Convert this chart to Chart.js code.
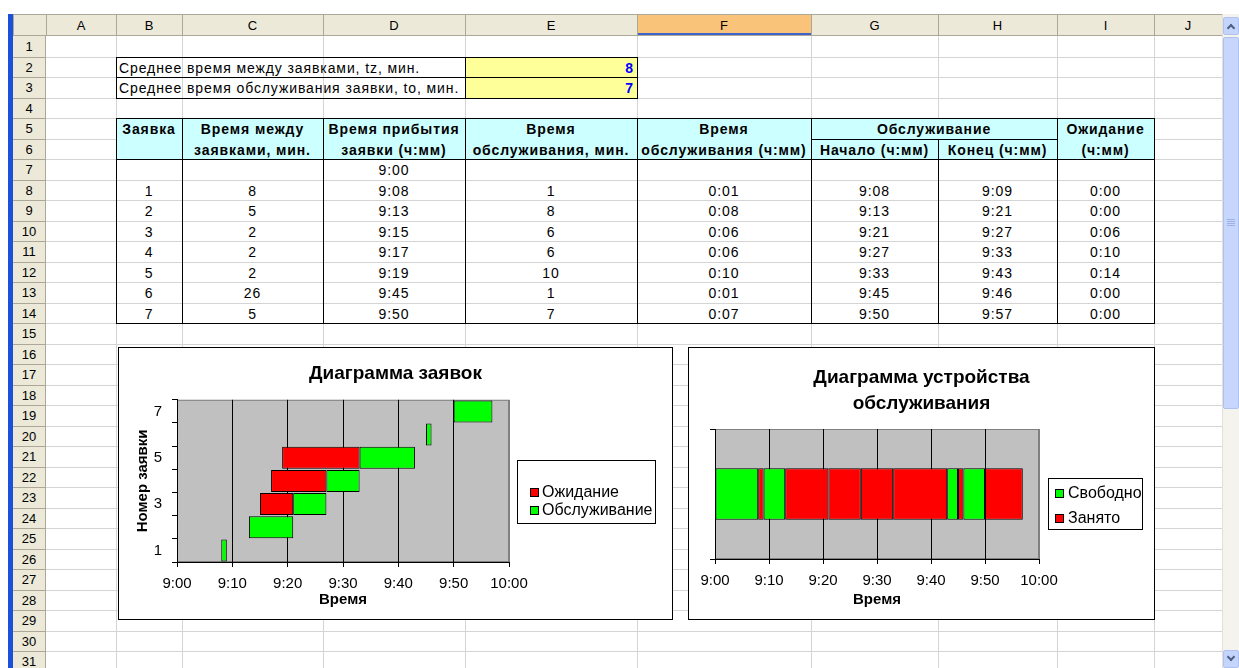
<!DOCTYPE html>
<html lang="ru">
<head>
<meta charset="utf-8">
<title>Диаграмма заявок</title>
<script src="https://cdn.jsdelivr.net/npm/chart.js@4.4.1/dist/chart.umd.min.js"></script>
<style>
html, body { margin: 0; padding: 0; background: #fff; }
body { width: 1239px; height: 668px; overflow: hidden; position: relative; font-family: 'Liberation Sans', Arial, sans-serif; }
#sheet { position: absolute; left: 0; top: 0; width: 1239px; height: 668px; }
.ln { position: absolute; box-sizing: border-box; }
.cell { position: absolute; box-sizing: border-box; font-size: 14px; letter-spacing: 0.9px; white-space: nowrap;
        display: flex; align-items: center; padding: 1px 3px 0 3px; color: #000; }
.hdr { position: absolute; box-sizing: border-box; font-size: 13px; display: flex; align-items: center; justify-content: center; color: #000; }
.chartbox { position: absolute; background: #fff; border: 1px solid #000; box-sizing: border-box; }
.chartbox canvas { position: absolute; left: 0; top: 0; }
</style>
</head>
<body>
<div id="sheet"></div>
<div class="chartbox" style="left:118px; top:347px; width:555px; height:273px;">
  <canvas id="requestsChart" width="553" height="271"></canvas>
</div>
<div class="chartbox" style="left:688px; top:347px; width:467px; height:273px;">
  <canvas id="deviceChart" width="465" height="271"></canvas>
</div>
<script>
// исходные параметры
const tzMean = 8;
const toMean = 7;

// таблица заявок
const requests = ['1', '2', '3', '4', '5', '6', '7'];
const interArrival = [8, 5, 2, 2, 2, 26, 5];
const arrivalTime = ['9:08', '9:13', '9:15', '9:17', '9:19', '9:45', '9:50'];
const serviceMin = [1, 8, 6, 6, 10, 1, 7];
const serviceTime = ['0:01', '0:08', '0:06', '0:06', '0:10', '0:01', '0:07'];
const startTime = ['9:08', '9:13', '9:21', '9:27', '9:33', '9:45', '9:50'];
const endTime = ['9:09', '9:21', '9:27', '9:33', '9:43', '9:46', '9:57'];
const waitTime = ['0:00', '0:00', '0:06', '0:10', '0:14', '0:00', '0:00'];
const firstTime = '9:00';

// подписи осей
const timeTicks = ['9:00', '9:10', '9:20', '9:30', '9:40', '9:50', '10:00'];
const shownRequestTicks = ['1', '3', '5', '7'];
const deviceRow = ['Устройство'];

const FONT = "'Liberation Sans', Arial, sans-serif";
const RED = '#FF0000';
const GREEN = '#00FF00';
const PLOT_GRAY = '#C0C0C0';

// ---------- лист ----------
const sheet = document.getElementById('sheet');
const colX = [46, 116, 182, 323, 465, 637, 811, 938, 1057, 1154, 1222];
const colNames = ['A', 'B', 'C', 'D', 'E', 'F', 'G', 'H', 'I', 'J'];
const ROW_TOP = 36, ROW_H = 20.5, ROWS = 31;

function rowY(n) { return Math.round(ROW_TOP + (n - 1) * ROW_H); }
function colL(c) { return colX[colNames.indexOf(c)]; }
function colR(c) { return colX[colNames.indexOf(c) + 1]; }

function box(x, y, w, h, style) {
    const d = document.createElement('div');
    d.className = 'ln';
    Object.assign(d.style, { left: x + 'px', top: y + 'px', width: w + 'px', height: h + 'px' }, style || {});
    sheet.appendChild(d);
    return d;
}
function hline(x1, x2, y, color) { box(x1, y, x2 - x1 + 1, 1, { background: color }); }
function vline(x, y1, y2, color) { box(x, y1, 1, y2 - y1 + 1, { background: color }); }
function fill(c1, c2, r1, r2, color) {
    box(colL(c1), rowY(r1), colR(c2) - colL(c1), rowY(r2 + 1) - rowY(r1), { background: color });
}
function cell(c1, c2, r, text, o = {}) {
    const d = document.createElement('div');
    d.className = 'cell';
    d.textContent = text;
    const x = colL(c1);
    Object.assign(d.style, {
        left: x + 'px', top: rowY(r) + 'px',
        width: (colR(c2) - x) + 'px', height: (rowY(r + 1) - rowY(r)) + 'px',
        justifyContent: o.align === 'left' ? 'flex-start' : o.align === 'right' ? 'flex-end' : 'center',
        fontWeight: o.bold ? 'bold' : 'normal',
        color: o.color || '#000'
    });
    sheet.appendChild(d);
}

// сетка
const GRID = '#D4D4D4';
for (let r = 2; r <= ROWS; r++) hline(46, 1222, rowY(r), GRID);
for (let i = 1; i < colX.length; i++) vline(colX[i], 36, 668, GRID);

// заголовки столбцов и строк
box(8, 14, 5, 654, { background: '#1C50DA' });
box(13, 14, 1209, 22, { background: '#ECE9D8', borderTop: '1px solid #ACA899', borderBottom: '1px solid #ACA899' });
box(637, 15, 174, 20, { background: '#F9C47A', borderBottom: '2px solid #3D64C8' });
colNames.forEach((name, i) => {
    const d = document.createElement('div');
    d.className = 'hdr';
    d.textContent = name;
    Object.assign(d.style, { left: colX[i] + 'px', top: '15px', width: (colX[i + 1] - colX[i]) + 'px', height: '21px' });
    sheet.appendChild(d);
});
for (let i = 0; i < colX.length; i++) vline(colX[i], 15, 35, '#ACA899');
vline(13, 15, 35, '#ACA899');
box(13, 36, 33, 632, { background: '#ECE9D8' });
vline(45, 36, 668, '#ACA899');
for (let r = 1; r <= ROWS; r++) {
    hline(13, 45, rowY(r + 1), '#ACA899');
    const d = document.createElement('div');
    d.className = 'hdr';
    d.textContent = String(r);
    Object.assign(d.style, { left: '13px', top: rowY(r) + 'px', width: '32px', height: (rowY(r + 1) - rowY(r)) + 'px' });
    sheet.appendChild(d);
}

// заливки
fill('E', 'E', 2, 3, '#FFFF99');
fill('B', 'I', 5, 6, '#CCFFFF');

// границы
const BL = '#000';
hline(116, 637, rowY(2), BL);
hline(116, 637, rowY(3), BL);
hline(116, 637, rowY(4), BL);
vline(116, rowY(2), rowY(4), BL);
vline(465, rowY(2), rowY(4), BL);
vline(637, rowY(2), rowY(4), BL);

hline(116, 1154, rowY(5), BL);
hline(811, 1057, rowY(6), BL);
hline(116, 1154, rowY(7), BL);
hline(116, 1154, rowY(15), BL);
['B', 'C', 'D', 'E', 'F', 'G', 'I'].forEach(c => vline(colL(c), rowY(5), rowY(15), BL));
vline(1154, rowY(5), rowY(15), BL);
vline(colL('H'), rowY(6), rowY(15), BL);

// тексты
cell('B', 'D', 2, 'Среднее время между заявками, tz, мин.', { align: 'left' });
cell('B', 'D', 3, 'Среднее время обслуживания заявки, to, мин.', { align: 'left' });
cell('E', 'E', 2, String(tzMean), { align: 'right', bold: true, color: '#0000FF' });
cell('E', 'E', 3, String(toMean), { align: 'right', bold: true, color: '#0000FF' });

cell('B', 'B', 5, 'Заявка', { bold: true });
cell('C', 'C', 5, 'Время между', { bold: true });
cell('C', 'C', 6, 'заявками, мин.', { bold: true });
cell('D', 'D', 5, 'Время прибытия', { bold: true });
cell('D', 'D', 6, 'заявки (ч:мм)', { bold: true });
cell('E', 'E', 5, 'Время', { bold: true });
cell('E', 'E', 6, 'обслуживания, мин.', { bold: true });
cell('F', 'F', 5, 'Время', { bold: true });
cell('F', 'F', 6, 'обслуживания (ч:мм)', { bold: true });
cell('G', 'H', 5, 'Обслуживание', { bold: true });
cell('G', 'G', 6, 'Начало (ч:мм)', { bold: true });
cell('H', 'H', 6, 'Конец (ч:мм)', { bold: true });
cell('I', 'I', 5, 'Ожидание', { bold: true });
cell('I', 'I', 6, '(ч:мм)', { bold: true });

cell('D', 'D', 7, firstTime);
requests.forEach((req, i) => {
    const r = 8 + i;
    cell('B', 'B', r, req);
    cell('C', 'C', r, String(interArrival[i]));
    cell('D', 'D', r, arrivalTime[i]);
    cell('E', 'E', r, String(serviceMin[i]));
    cell('F', 'F', r, serviceTime[i]);
    cell('G', 'G', r, startTime[i]);
    cell('H', 'H', r, endTime[i]);
    cell('I', 'I', r, waitTime[i]);
});

// полоса прокрутки
box(1222, 14, 17, 654, { background: '#F4F3EE', borderLeft: '1px solid #E3E1D6' });
box(1223, 17, 16, 18, { background: '#C4D4FC', border: '1px solid #AFC3F0', borderRadius: '2px' });
box(1228, 25, 6, 6, { borderLeft: '2px solid #4D6185', borderTop: '2px solid #4D6185', transform: 'rotate(45deg)' });
box(1223, 37, 16, 372, { background: '#C6D6FC', border: '1px solid #AEC2EE', borderRadius: '2px' });
for (let k = 0; k < 4; k++) hline(1227, 1234, 219 + k * 2, '#9DB1E6');
box(1223, 650, 16, 18, { background: '#C4D4FC', border: '1px solid #AFC3F0', borderRadius: '2px' });
box(1228, 654, 6, 6, { borderRight: '2px solid #4D6185', borderBottom: '2px solid #4D6185', transform: 'rotate(45deg)' });

// ---------- диаграммы ----------
function minutes(t) {
    const [h, m] = t.split(':').map(Number);
    return h * 60 + m;
}
function sinceStart(t) { return minutes(t) - minutes(firstTime); }

// серая область построения с рамкой
const plotBg = {
    id: 'plotBg',
    beforeDraw(chart, args, o) {
        const { ctx, chartArea: a } = chart;
        ctx.save();
        ctx.fillStyle = o.color;
        ctx.fillRect(a.left, a.top, a.width, a.height);
        ctx.strokeStyle = o.border;
        ctx.lineWidth = 1;
        ctx.strokeRect(a.left + 0.5, a.top + 0.5, a.width - 1, a.height - 1);
        ctx.restore();
    }
};

// легенда в рамке, как в Excel
const boxLegend = {
    id: 'boxLegend',
    afterDraw(chart, args, o) {
        const ctx = chart.ctx;
        ctx.save();
        ctx.fillStyle = '#fff';
        ctx.fillRect(o.x, o.y, o.w, o.h);
        ctx.strokeStyle = '#000';
        ctx.lineWidth = 1;
        ctx.strokeRect(o.x + 0.5, o.y + 0.5, o.w - 1, o.h - 1);
        ctx.font = o.size + 'px ' + FONT;
        ctx.textBaseline = 'middle';
        chart.data.datasets.forEach((ds, i) => {
            const cy = Math.round(o.y + o.firstRow + i * o.rowGap);
            ctx.fillStyle = ds.backgroundColor;
            ctx.fillRect(o.x + o.markX, cy - 4, 9, 9);
            ctx.strokeRect(o.x + o.markX + 0.5, cy - 3.5, 8, 8);
            ctx.fillStyle = '#000';
            ctx.fillText(ds.label, o.x + o.textX, cy + 1);
        });
        ctx.restore();
    }
};

Chart.defaults.font.family = FONT;
Chart.defaults.color = '#000';

const tickFont = { family: FONT, size: 15 };
const axisTitleFont = { family: FONT, size: 15, weight: 'bold' };

function timeAxis(height, tickPad, titlePad) {
    return {
        type: 'linear',
        min: 0,
        max: 60,
        ticks: {
            stepSize: 10,
            maxRotation: 0,
            autoSkip: false,
            padding: tickPad,
            font: tickFont,
            color: '#000',
            callback: v => timeTicks[v / 10]
        },
        grid: {
            color: c => (c.tick && c.tick.value === 60 ? '#808080' : '#000'),
            tickColor: '#000',
            tickLength: 5,
            lineWidth: 1
        },
        border: { color: '#000' },
        title: { display: true, text: 'Время', font: axisTitleFont, color: '#000', padding: { top: 0, bottom: titlePad } },
        afterFit: s => { s.height = height; }
    };
}

function spacerAxis(width) {
    return {
        type: 'linear',
        position: 'right',
        display: true,
        grid: { display: false },
        ticks: { display: false },
        border: { display: false },
        afterFit: s => { s.width = width; }
    };
}

// Диаграмма заявок
const waitBars = requests.map((r, i) =>
    minutes(waitTime[i]) > 0 ? [sinceStart(arrivalTime[i]), sinceStart(startTime[i])] : null);
const serviceBars = requests.map((r, i) => [sinceStart(startTime[i]), sinceStart(endTime[i])]);

new Chart(document.getElementById('requestsChart').getContext('2d'), {
    type: 'bar',
    data: {
        labels: requests,
        datasets: [
            { label: 'Ожидание', data: waitBars, backgroundColor: RED, borderColor: '#000', borderWidth: 1,
              borderSkipped: false, grouped: false, barPercentage: 0.95, categoryPercentage: 1 },
            { label: 'Обслуживание', data: serviceBars, backgroundColor: GREEN, borderColor: '#000', borderWidth: 1,
              borderSkipped: false, grouped: false, barPercentage: 0.95, categoryPercentage: 1 }
        ]
    },
    options: {
        indexAxis: 'y',
        responsive: false,
        animation: false,
        layout: { padding: 0 },
        plugins: {
            legend: { display: false },
            tooltip: { enabled: false },
            title: {
                display: true, text: 'Диаграмма заявок', color: '#000',
                font: { family: FONT, size: 19, weight: 'bold' },
                padding: { top: 14, bottom: 15 }
            },
            plotBg: { color: PLOT_GRAY, border: '#808080' },
            boxLegend: { x: 398, y: 112, w: 139, h: 64, firstRow: 32, rowGap: 18, markX: 13, textX: 25, size: 16 }
        },
        scales: {
            x: timeAxis(57, 8, 10),
            y: {
                type: 'category',
                reverse: true,
                ticks: {
                    padding: 10,
                    font: tickFont,
                    color: '#000',
                    autoSkip: false,
                    callback: function (v) {
                        const lab = this.getLabelForValue(v);
                        return shownRequestTicks.includes(lab) ? lab : '';
                    }
                },
                grid: { drawOnChartArea: false, tickLength: 5, tickColor: '#000', offset: true },
                border: { color: '#000' },
                title: { display: true, text: 'Номер заявки', font: axisTitleFont, color: '#000', padding: { top: 15, bottom: 0 } },
                afterFit: s => { s.width = 58; }
            },
            spacer: spacerAxis(163)
        }
    },
    plugins: [plotBg, boxLegend]
});

// Диаграмма устройства обслуживания
const busyBars = requests.map((r, i) => ({ x: [sinceStart(startTime[i]), sinceStart(endTime[i])], y: deviceRow[0] }));
const freeBars = [];
let prevEnd = 0;
requests.forEach((r, i) => {
    const s = sinceStart(startTime[i]);
    if (s > prevEnd) freeBars.push({ x: [prevEnd, s], y: deviceRow[0] });
    prevEnd = sinceStart(endTime[i]);
});

new Chart(document.getElementById('deviceChart').getContext('2d'), {
    type: 'bar',
    data: {
        labels: deviceRow,
        datasets: [
            { label: 'Свободно', data: freeBars, backgroundColor: GREEN, borderColor: '#000', borderWidth: 1,
              borderSkipped: false, grouped: false, barPercentage: 0.395, categoryPercentage: 1 },
            { label: 'Занято', data: busyBars, backgroundColor: RED, borderColor: '#000', borderWidth: 1,
              borderSkipped: false, grouped: false, barPercentage: 0.395, categoryPercentage: 1 }
        ]
    },
    options: {
        indexAxis: 'y',
        responsive: false,
        animation: false,
        layout: { padding: 0 },
        plugins: {
            legend: { display: false },
            tooltip: { enabled: false },
            title: {
                display: true, text: ['Диаграмма устройства', 'обслуживания'], color: '#000',
                font: { family: FONT, size: 19, weight: 'bold', lineHeight: '26px' },
                padding: { top: 17, bottom: 12 }
            },
            plotBg: { color: PLOT_GRAY, border: '#808080' },
            boxLegend: { x: 359, y: 130, w: 95, h: 52, firstRow: 15, rowGap: 25, markX: 7, textX: 20, size: 16 }
        },
        scales: {
            x: timeAxis(60, 8, 10),
            y: {
                type: 'category',
                ticks: { display: true, callback: () => '' },
                grid: { drawOnChartArea: false, tickLength: 5, tickColor: '#000', offset: true },
                border: { color: '#000' },
                afterFit: s => { s.width = 26; }
            },
            spacer: spacerAxis(115)
        }
    },
    plugins: [plotBg, boxLegend]
});
</script>
</body>
</html>
